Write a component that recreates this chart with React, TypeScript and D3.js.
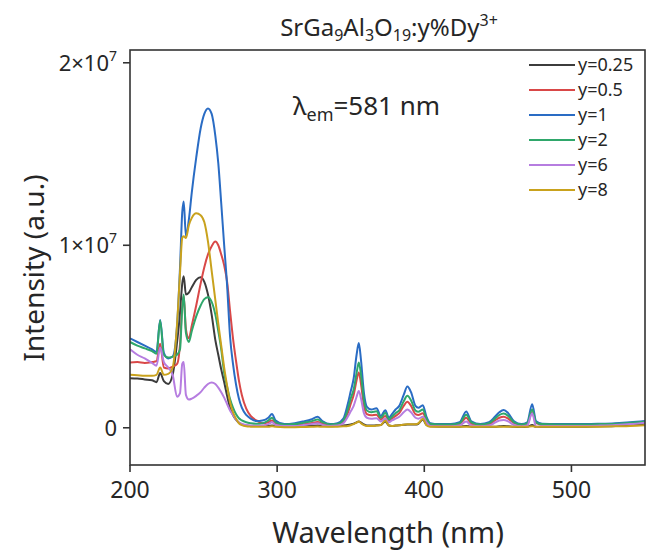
import React from "react";
import * as d3 from "d3";

const wavelengths = [
  200, 205, 210, 215, 218,
  220.5, 223, 226, 229, 232,
  234, 235.5, 236.5, 238, 240,
  242, 245, 248, 250.5, 253,
  255.5, 258, 260, 262, 264,
  266, 268, 270, 272, 274,
  276, 279, 282, 286, 290,
  294, 296.5, 299, 305, 312,
  318, 323, 327.5, 331, 336,
  341, 345, 348, 350, 352,
  354, 355.5, 357, 359, 361,
  364, 367.5, 370.5, 373.5, 376,
  378, 380.5, 383, 386, 388.5,
  391, 394, 396, 399, 401.5,
  404, 410, 418, 424, 428.5,
  432, 438, 444, 448, 451,
  454, 457, 461, 466, 470,
  473.3, 476, 480, 490, 500,
  510, 520, 530, 540, 550,
];

// values in units of 1e6
const y025 = [
  2.72, 2.7, 2.65, 2.6, 2.5,
  3.0, 2.55, 2.4, 2.9, 4.7,
  6.3, 7.9, 8.3, 7.3, 7.4,
  7.7, 8.1, 8.25, 8.0, 7.3,
  6.2, 4.8, 4.0, 3.2, 2.5,
  1.75, 1.1, 0.7, 0.45, 0.28,
  0.18, 0.12, 0.1, 0.1, 0.1,
  0.1, 0.12, 0.1, 0.08, 0.08,
  0.08, 0.1, 0.12, 0.1, 0.08,
  0.1, 0.12, 0.15, 0.18, 0.22,
  0.3, 0.35, 0.28, 0.18, 0.12,
  0.12, 0.14, 0.15, 0.35, 0.12,
  0.1, 0.12, 0.14, 0.16, 0.18,
  0.18, 0.18, 0.22, 0.45, 0.15,
  0.08, 0.06, 0.06, 0.06, 0.1,
  0.06, 0.05, 0.05, 0.06, 0.08,
  0.1, 0.08, 0.05, 0.04, 0.05,
  0.15, 0.04, 0.05, 0.05, 0.05,
  0.06, 0.08, 0.1, 0.15, 0.22,
];

const y05 = [
  3.58, 3.6, 3.55, 3.6, 3.65,
  4.6, 3.3, 3.25, 3.35, 3.5,
  4.6, 6.7, 7.2, 5.4, 4.9,
  5.6, 6.7, 7.9, 8.8, 9.5,
  9.95, 10.2, 10.0, 9.5, 8.9,
  8.0, 6.4, 4.9, 3.7, 2.6,
  1.8, 1.05, 0.65, 0.4, 0.25,
  0.3, 0.4, 0.25, 0.15, 0.15,
  0.2, 0.25, 0.32, 0.22, 0.15,
  0.18, 0.35, 0.8, 1.3, 1.8,
  2.6, 3.03, 2.4, 1.2, 0.75,
  0.68, 0.72, 0.45, 0.65, 0.38,
  0.5, 0.65, 0.8, 1.2, 1.42,
  1.2, 0.75, 0.7, 0.8, 0.4,
  0.18, 0.15, 0.15, 0.2, 0.55,
  0.22, 0.15, 0.2, 0.4, 0.55,
  0.61, 0.5, 0.25, 0.15, 0.2,
  0.85, 0.25, 0.17, 0.15, 0.15,
  0.15, 0.17, 0.2, 0.24, 0.3,
];

const y1 = [
  4.9, 4.7, 4.5, 4.3, 4.15,
  5.9, 4.1, 3.8, 3.9, 5.6,
  8.8, 11.8, 12.4, 10.5, 11.4,
  12.9, 14.8, 16.4, 17.2, 17.5,
  17.2, 16.0, 14.5, 12.3, 10.0,
  7.8, 5.0, 3.5, 2.4, 1.6,
  1.1, 0.7, 0.5, 0.37, 0.4,
  0.55, 0.75, 0.4, 0.2, 0.25,
  0.35, 0.45, 0.6, 0.35, 0.2,
  0.25, 0.5, 1.3, 2.0, 2.7,
  4.0, 4.64, 3.7, 1.9, 1.15,
  1.0, 1.07, 0.65, 0.96, 0.55,
  0.75, 1.0, 1.2, 1.8, 2.26,
  1.95, 1.2, 1.1, 1.24, 0.6,
  0.25, 0.2, 0.2, 0.3, 0.89,
  0.35, 0.2, 0.3, 0.6, 0.85,
  0.98, 0.8, 0.35, 0.2, 0.3,
  1.29, 0.35, 0.22, 0.2, 0.2,
  0.2, 0.22, 0.25, 0.3, 0.37,
];

const y2 = [
  4.7, 4.5, 4.35, 4.2, 4.05,
  5.87, 4.0, 3.85, 3.9, 4.0,
  4.3, 6.6, 7.3, 5.2, 4.7,
  5.3, 6.1, 6.7, 7.05, 7.15,
  6.9, 6.2, 5.3, 4.3, 3.0,
  2.25, 1.57, 1.1, 0.75, 0.52,
  0.4, 0.3, 0.25, 0.22, 0.25,
  0.4, 0.55, 0.3, 0.18, 0.2,
  0.28, 0.35, 0.45, 0.3, 0.18,
  0.2, 0.4, 1.0, 1.6, 2.1,
  3.0, 3.58, 2.9, 1.5, 0.95,
  0.85, 0.9, 0.55, 0.82, 0.45,
  0.6, 0.8, 0.95, 1.45, 1.75,
  1.5, 0.95, 0.88, 1.0, 0.5,
  0.22, 0.18, 0.18, 0.25, 0.72,
  0.3, 0.18, 0.25, 0.5, 0.7,
  0.78, 0.65, 0.3, 0.18, 0.25,
  1.0, 0.3, 0.2, 0.18, 0.18,
  0.18, 0.2, 0.22, 0.27, 0.33,
];

const y6 = [
  4.3, 4.0, 3.8, 3.55, 3.4,
  4.4, 3.6, 3.3, 2.9, 1.7,
  1.9, 3.5, 3.6, 1.8, 1.55,
  1.6, 1.75, 1.95, 2.2, 2.4,
  2.48, 2.4, 2.2, 1.95, 1.65,
  1.3, 0.95, 0.7, 0.45, 0.3,
  0.22, 0.15, 0.12, 0.1, 0.12,
  0.2, 0.3, 0.15, 0.1, 0.1,
  0.15, 0.2, 0.25, 0.15, 0.1,
  0.12, 0.25, 0.6, 0.9, 1.2,
  1.7, 2.02, 1.6, 0.8, 0.55,
  0.5, 0.52, 0.35, 0.5, 0.3,
  0.4, 0.5, 0.6, 0.85, 1.0,
  0.85, 0.55, 0.5, 0.6, 0.3,
  0.1, 0.08, 0.08, 0.12, 0.35,
  0.12, 0.08, 0.12, 0.28, 0.4,
  0.43, 0.35, 0.15, 0.08, 0.12,
  0.8, 0.05, 0.1, 0.1, 0.1,
  0.1, 0.12, 0.15, 0.2, 0.28,
];

const y8 = [
  2.9, 2.88, 2.85, 2.85, 2.9,
  3.3, 2.9, 2.95, 3.3, 5.7,
  8.5, 10.4, 10.5, 10.4, 11.1,
  11.5, 11.75, 11.65, 11.27, 10.2,
  8.6, 7.0, 5.7, 4.5, 3.3,
  2.3, 1.4, 0.85, 0.5, 0.25,
  0.15, 0.08, 0.06, 0.05, 0.05,
  0.05, 0.08, 0.05, 0.03, 0.03,
  0.04, 0.05, 0.07, 0.05, 0.05,
  0.06, 0.08, 0.1, 0.14, 0.2,
  0.28, 0.35, 0.25, 0.15, 0.1,
  0.1, 0.12, 0.15, 0.4, 0.12,
  0.1, 0.12, 0.14, 0.17, 0.19,
  0.19, 0.19, 0.24, 0.5, 0.14,
  0.06, 0.05, 0.05, 0.05, 0.06,
  0.05, 0.05, 0.05, 0.05, 0.06,
  0.06, 0.05, 0.05, 0.05, 0.05,
  0.08, 0.05, 0.05, 0.05, 0.05,
  0.05, 0.06, 0.08, 0.1, 0.14,
];

const seriesNames = ["y=0.25", "y=0.5", "y=1", "y=2", "y=6", "y=8"];
const seriesValues = [y025, y05, y1, y2, y6, y8];
const seriesColors = ["#3c3c3c", "#d94848", "#2a6cc4", "#2fa76b", "#b67de0", "#c9a21d"];

const xTicks = [200, 300, 400, 500];
const yTicks = [0, 1e7, 2e7];

const W = 646;
const H = 552;
const left = 130;
const right = 645;
const top = 50;
const bottom = 465;

const FONT = "'Noto Sans', 'DejaVu Sans', sans-serif";
const TXT = "#262626";

export default function App() {
  const x = d3.scaleLinear().domain([200, 550]).range([left, right]);
  const y = d3.scaleLinear().domain([-2.04e6, 2.07e7]).range([bottom, top]);

  const line = d3
    .line<number>()
    .x((_, i) => x(wavelengths[i]))
    .y((v) => y(v * 1e6))
    .curve(d3.curveMonotoneX);

  return (
    <svg width={W} height={H} style={{ position: "absolute", left: 0, top: 0 }} fontFamily={FONT}>
      <rect x={0} y={0} width={W} height={H} fill="#fff" />
      <defs>
        <clipPath id="plotclip">
          <rect x={left} y={top} width={right - left} height={bottom - top} />
        </clipPath>
      </defs>

      {/* title */}
      <text x={389} y={36} textAnchor="middle" fontSize={24} fill={TXT}>
        SrGa<tspan fontSize={16} dy={5}>9</tspan>
        <tspan dy={-5}>Al</tspan>
        <tspan fontSize={16} dy={5}>3</tspan>
        <tspan dy={-5}>O</tspan>
        <tspan fontSize={16} dy={5}>19</tspan>
        <tspan dy={-5}>:y%Dy</tspan>
        <tspan fontSize={16} dy={-10}>3+</tspan>
      </text>

      {/* lines */}
      <g clipPath="url(#plotclip)">
        {seriesValues.map((vals, k) => (
          <path
            key={seriesNames[k]}
            d={line(vals) || ""}
            fill="none"
            stroke={seriesColors[k]}
            strokeWidth={2}
            strokeLinejoin="round"
          />
        ))}
      </g>

      {/* frame */}
      <rect x={left} y={top} width={right - left} height={bottom - top} fill="none" stroke="#333" strokeWidth={1.6} />

      {/* x ticks */}
      {xTicks.map((t) => (
        <g key={"x" + t}>
          <line x1={x(t)} x2={x(t)} y1={bottom} y2={bottom + 7} stroke="#333" strokeWidth={1.6} />
          <text x={x(t)} y={bottom + 33} textAnchor="middle" fontSize={23} fill={TXT}>
            {t}
          </text>
        </g>
      ))}

      {/* y ticks */}
      {yTicks.map((t) => (
        <g key={"y" + t}>
          <line x1={left - 7} x2={left} y1={y(t)} y2={y(t)} stroke="#333" strokeWidth={1.6} />
          <text x={left - 13} y={y(t) + 8} textAnchor="end" fontSize={22} fill={TXT}>
            {t === 0 ? (
              "0"
            ) : (
              <>
                {t / 1e7}×10<tspan fontSize={14} dy={-10}>7</tspan>
              </>
            )}
          </text>
        </g>
      ))}

      {/* axis titles */}
      <text x={388} y={543} textAnchor="middle" fontSize={29} fill={TXT}>
        Wavelength (nm)
      </text>
      <text
        transform={`translate(44, 268) rotate(-90)`}
        textAnchor="middle"
        fontSize={28}
        fill={TXT}
      >
        Intensity (a.u.)
      </text>

      {/* annotation */}
      <text x={293} y={115} fontSize={26} fill={TXT}>
        λ<tspan fontSize={18} dy={6}>em</tspan>
        <tspan dy={-6}>=581 nm</tspan>
      </text>

      {/* legend */}
      {seriesNames.map((name, k) => {
        const ly = 65 + 25 * k;
        return (
          <g key={"leg" + name}>
            <line x1={529} x2={575} y1={ly} y2={ly} stroke={seriesColors[k]} strokeWidth={2} />
            <text x={578} y={ly + 6} fontSize={18} fill={TXT}>
              {name}
            </text>
          </g>
        );
      })}
    </svg>
  );
}
